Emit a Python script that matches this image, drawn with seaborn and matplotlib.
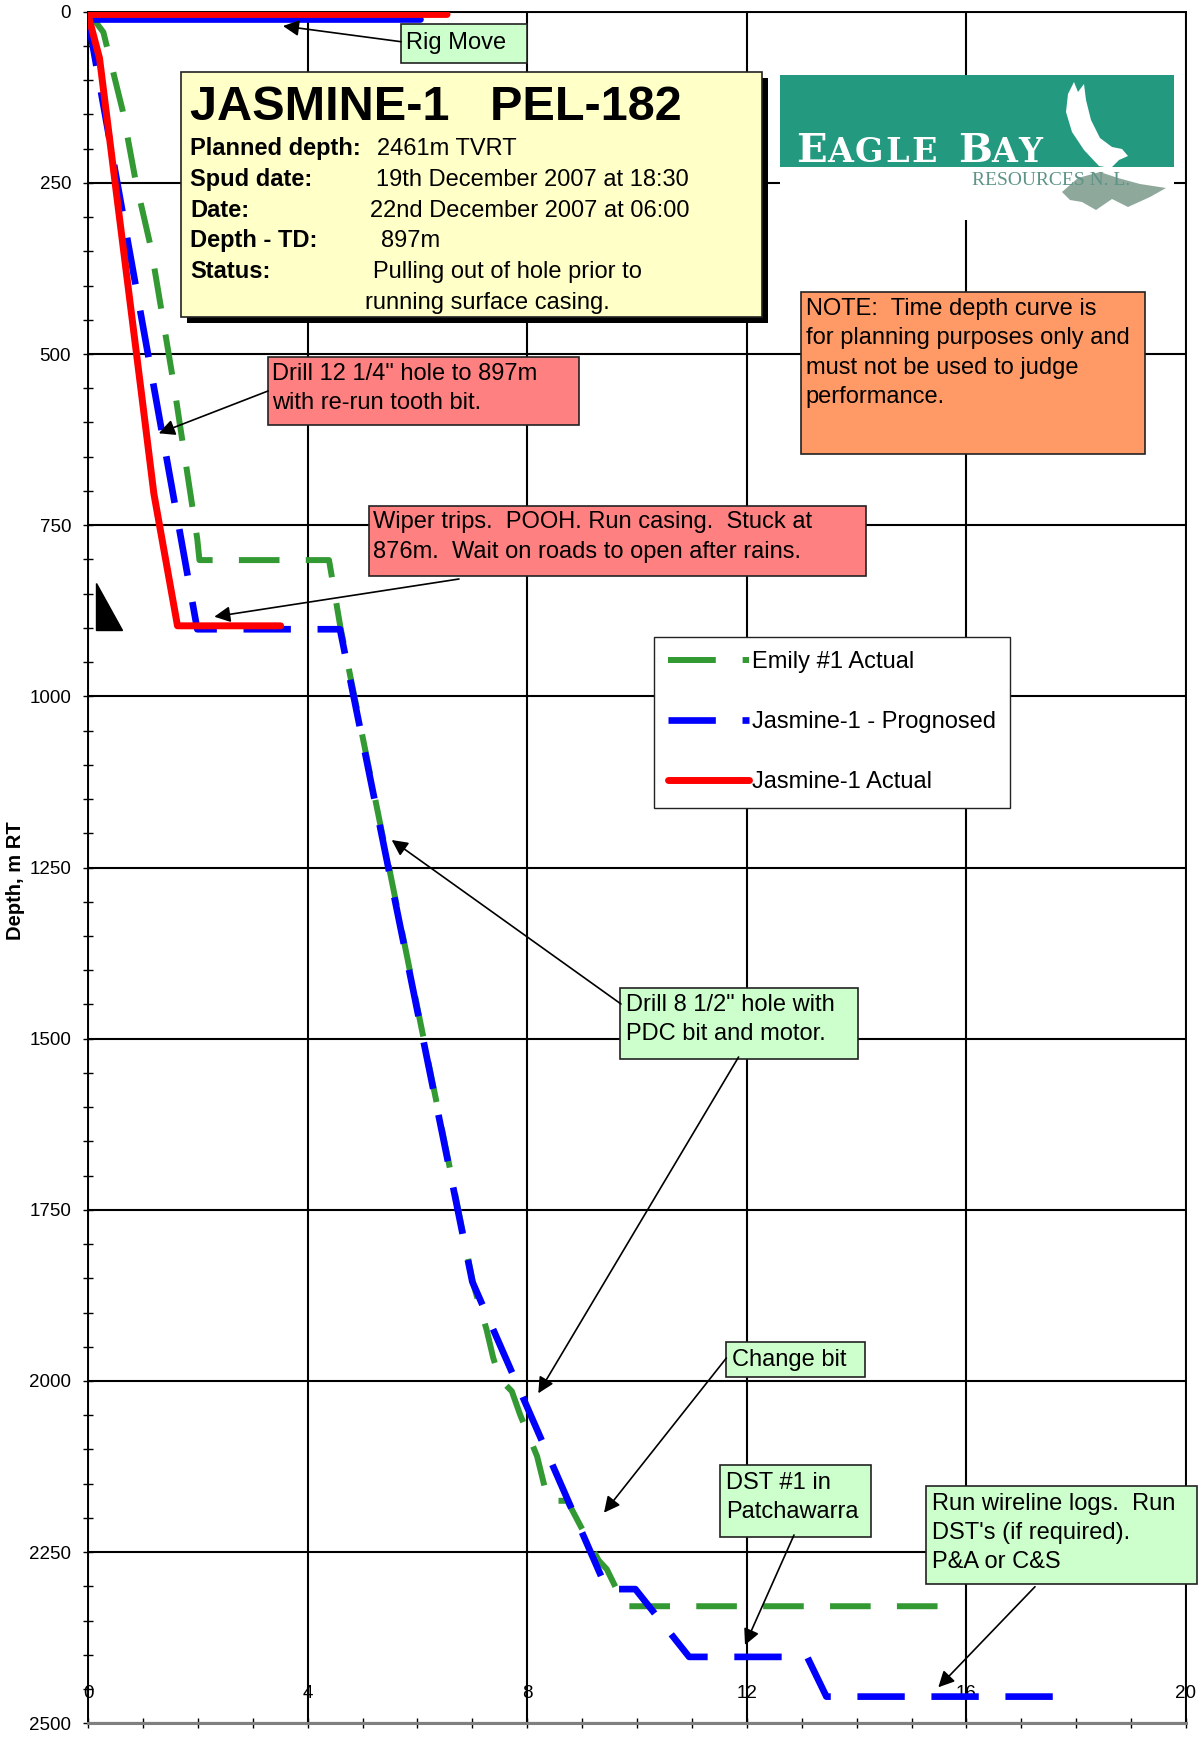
import numpy as np
import pandas as pd
import matplotlib
matplotlib.use("Agg")
import matplotlib.pyplot as plt
import seaborn as sns
from matplotlib.patches import Rectangle, Polygon
from matplotlib.lines import Line2D
from matplotlib.ticker import MultipleLocator

# ---------------- data (days vs depth, m RT) ----------------
series_names = ["Emily #1 Actual", "Jasmine-1 - Prognosed", "Jasmine-1 Actual"]

emily_days = [0.0, 0.28, 0.63, 0.87, 1.15, 1.57, 1.99, 2.03, 4.39, 4.6, 7.02, 7.26, 7.38,
              7.5, 7.72, 7.87, 8.18, 8.38, 8.73, 9.3, 9.45, 9.78, 15.84]
emily_depth = [0, 30, 144, 248, 346, 548, 770, 801, 801, 900, 1859, 1925, 1966,
               1997, 2015, 2049, 2110, 2175, 2175, 2262, 2275, 2329, 2329]

# first two points = rig move
prog_days = [6.05, 0.0, 1.99, 4.59, 7.0, 9.45, 9.97, 10.95, 13.1, 13.45, 17.84]
prog_depth = [11, 11, 902, 902, 1855, 2304, 2304, 2403, 2403, 2461, 2461]

actual_days = [6.54, 0.0, 0.21, 0.99, 1.2, 1.63, 3.51]
actual_depth = [4, 4, 68, 568, 704, 897, 897]

x_major = 4
x_minor = 1
y_major = 250
y_minor = 50
x_range = (0, 20)
y_range = (2500, 0)

# ---------------- styling ----------------
sns.set_theme(style="white")
plt.rcParams["font.family"] = ["Liberation Sans", "DejaVu Sans"]
plt.rcParams["text.color"] = "black"
plt.rcParams["xtick.color"] = "black"
plt.rcParams["ytick.color"] = "black"
plt.rcParams["axes.edgecolor"] = "black"

W, H = 1203, 1738
fig = plt.figure(figsize=(W / 100, H / 100), dpi=100)
fig.patch.set_facecolor("white")

L, R, T, B = 88, 1186, 11.7, 1723.3
ax = fig.add_axes([L / W, 1 - B / H, (R - L) / W, (B - T) / H])

GREEN, BLUE, RED = "#339933", "#0000FF", "#FF0000"

df_e = pd.DataFrame({"days": emily_days, "depth": emily_depth})
df_p = pd.DataFrame({"days": prog_days, "depth": prog_depth})
df_a = pd.DataFrame({"days": actual_days, "depth": actual_depth})

sns.lineplot(data=df_e, x="days", y="depth", sort=False, estimator=None, ax=ax,
             color=GREEN, lw=4.3, legend=False)
l_e = ax.lines[-1]
l_e.set_dashes([6.8, 4.4])
l_e.set_dash_capstyle("butt")

# rig-move part of prognosed (solid) and the drilling curve (dashed)
sns.lineplot(data=df_p.iloc[:2], x="days", y="depth", sort=False, estimator=None, ax=ax,
             color=BLUE, lw=4.8, legend=False)
l_p0 = ax.lines[-1]
sns.lineplot(data=df_p.iloc[1:], x="days", y="depth", sort=False, estimator=None, ax=ax,
             color=BLUE, lw=4.8, legend=False)
l_p = ax.lines[-1]
l_p.set_dashes([7.1, 4.0])
l_p.set_dash_capstyle("butt")

sns.lineplot(data=df_a, x="days", y="depth", sort=False, estimator=None, ax=ax,
             color=RED, lw=5.0, legend=False)
l_a = ax.lines[-1]
l_a.set_solid_capstyle("round")
l_a.set_solid_joinstyle("round")

for ln, z in zip([l_e, l_p0, l_p, l_a], [3, 4, 4, 5]):
    ln.set_zorder(z)

ax.set_xlim(*x_range)
ax.set_ylim(*y_range)
ax.xaxis.set_major_locator(MultipleLocator(x_major))
ax.xaxis.set_minor_locator(MultipleLocator(x_minor))
ax.yaxis.set_major_locator(MultipleLocator(y_major))
ax.yaxis.set_minor_locator(MultipleLocator(y_minor))
ax.set_axisbelow(True)
ax.grid(True, which="major", color="black", lw=1.5)
ax.grid(False, which="minor")

ax.tick_params(axis="both", which="both", direction="inout", length=7.5, width=1,
               color="black", left=True, bottom=True, top=False, right=False)
ax.tick_params(axis="y", which="major", labelsize=13.5, pad=8.4)
ax.tick_params(axis="x", which="major", labelsize=13.5, pad=-31.5)
ax.set_xlabel("")
ax.set_ylabel("")

for s in ["left", "top", "right"]:
    ax.spines[s].set_color("black")
    ax.spines[s].set_linewidth(1.4)
ax.spines["bottom"].set_color("#808080")
ax.spines["bottom"].set_linewidth(2.2)

fig.text(16 / W, 1 - 881 / H, "Depth, m RT", rotation=90, ha="center", va="center",
         fontsize=14.5, fontweight="bold")

# ---------------- legend ----------------
h_e = Line2D([], [], color=GREEN, lw=4.3, dashes=[8.0, 4.5], dash_capstyle="butt")
h_p = Line2D([], [], color=BLUE, lw=4.8, dashes=[7.1, 4.0], dash_capstyle="butt")
h_a = Line2D([], [], color=RED, lw=5.0, solid_capstyle="round")
leg = ax.legend([h_e, h_p, h_a], series_names, loc="upper left",
                bbox_to_anchor=(654.3 / W, 1 - 636.7 / H), bbox_transform=fig.transFigure,
                borderaxespad=0, fontsize=17, handlelength=3.39, handletextpad=0.13,
                borderpad=0.6, labelspacing=1.62, frameon=True, fancybox=False,
                framealpha=1, edgecolor="#222222")
leg.get_frame().set_linewidth(1.0)

# ---------------- overlay annotations (pixel coords) ----------------
ov = fig.add_axes([0, 0, 1, 1], zorder=10)
ov.set_xlim(0, W)
ov.set_ylim(H, 0)
ov.axis("off")


def box(x0, y0, x1, y1, fc, shadow=False):
    if shadow:
        ov.add_patch(Rectangle((x0 + 6, y0 + 6), x1 - x0, y1 - y0, fc="black", ec="none"))
    ov.add_patch(Rectangle((x0, y0), x1 - x0, y1 - y0, fc=fc, ec="#222222", lw=1.2))


def txt(x, y, s, size=17, weight="normal", **kw):
    ov.text(x, y, s, fontsize=size, fontweight=weight, va="baseline", ha="left", **kw)


def arrow(tail, head):
    ov.annotate("", xy=head, xytext=tail,
                arrowprops=dict(arrowstyle="-|>", color="black", lw=1.2,
                                shrinkA=0, shrinkB=0, mutation_scale=24))


# title box
box(180.7, 71.7, 762.4, 316.7, "#FFFFC8", shadow=True)
txt(190, 120, "JASMINE-1   PEL-182", size=35, weight="bold")
labels = ["Planned depth:", "Spud date:", "Date:", "Depth - TD:", "Status:"]
label_y = [155, 186, 216.7, 247.3, 278.3]
for s, y in zip(labels, label_y):
    txt(190, y, s, weight="bold")
values = [("2461m TVRT", 376.7, 155), ("19th December 2007 at 18:30", 375.5, 186),
          ("22nd December 2007 at 06:00", 369.8, 216.7), ("897m", 380.5, 247.3),
          ("Pulling out of hole prior to", 372.8, 278.3),
          ("running surface casing.", 365.2, 309.3)]
for s, x, y in values:
    txt(x, y, s)

# rig move
box(401, 24, 527, 62.7, "#CCFFCC")
txt(406, 49, "Rig Move")
arrow((401, 41.7), (283, 26))

# drill 12 1/4
box(268, 357.3, 578.6, 425, "#FF8080")
txt(272.5, 380, "Drill 12 1/4\" hole to 897m")
txt(272.5, 409, "with re-run tooth bit.")
arrow((268, 391), (158.8, 433.3))

# wiper trips
box(369.3, 506, 866, 575.7, "#FF8080")
txt(373, 528.3, "Wiper trips.  POOH. Run casing.  Stuck at")
txt(373, 558.3, "876m.  Wait on roads to open after rains.")
arrow((459, 579), (214.3, 616.7))

# note
box(800.8, 292.3, 1145.4, 454, "#FF9966")
for s, y in zip(["NOTE:  Time depth curve is", "for planning purposes only and",
                 "must not be used to judge", "performance."], [315, 344.3, 374, 403.3]):
    txt(805.8, y, s)

# drill 8 1/2
box(620, 987.7, 858.3, 1059, "#CCFFCC")
txt(625.7, 1011, "Drill 8 1/2\" hole with")
txt(625.7, 1040, "PDC bit and motor.")
arrow((621, 1004), (391.7, 840))
arrow((738.6, 1057), (538.3, 1393.3))

# change bit
box(726.4, 1342, 865, 1377.4, "#CCFFCC")
txt(732, 1366, "Change bit")
arrow((726.4, 1358), (604, 1512.7))

# DST
box(720, 1465, 870.7, 1536.7, "#CCFFCC")
txt(726, 1489.3, "DST #1 in")
txt(726, 1518.3, "Patchawarra")
arrow((794, 1535), (745, 1645))

# run wireline
box(926, 1486, 1196.7, 1584, "#CCFFCC")
txt(931.7, 1510, "Run wireline logs.  Run")
txt(931.7, 1539.3, "DST's (if required).")
txt(931.7, 1568.3, "P&A or C&S")
arrow((1035, 1586.7), (938.3, 1687.3))

# black triangle marker
ov.add_patch(Polygon([(95.7, 582.7), (95.7, 630), (121.7, 630)], closed=True,
                     fc="black", ec="black"))

# ---------------- logo ----------------
lg = fig.add_axes([780 / W, 1 - 220 / H, (1174 - 780) / W, (220 - 75) / H], zorder=9)
lg.set_xlim(780, 1174)
lg.set_ylim(220, 75)
lg.axis("off")
lg.add_patch(Rectangle((780, 75), 394, 145, fc="white", ec="none"))
lg.add_patch(Rectangle((780, 75), 394, 92, fc="#239A80", ec="none"))
lg.add_patch(Polygon([(1062, 192), (1078, 178), (1100, 172), (1118, 178), (1140, 184),
                      (1166, 188), (1150, 197), (1128, 207), (1112, 199), (1096, 210),
                      (1082, 202), (1070, 200)], closed=True, fc="#8FA89C", ec="none"))
lg.add_patch(Polygon([(1066, 112), (1068, 94), (1074, 82), (1078, 92), (1084, 84),
                      (1086, 100), (1091, 120), (1100, 138), (1112, 147), (1122, 149),
                      (1128, 156), (1119, 160), (1111, 168), (1099, 166), (1084, 150),
                      (1072, 132)], closed=True, fc="white", ec="none"))
sf = ["DejaVu Serif"]
logo_letters = [("E", 796, 29), ("A", 827, 24), ("G", 855, 24), ("L", 885, 24), ("E", 911, 24),
                ("B", 958, 29), ("A", 991, 24), ("Y", 1018, 24)]
for ch, x, sz in logo_letters:
    lg.text(x, 162, ch, fontsize=sz, fontweight="bold", color="white", family=sf,
            va="baseline")
lg.text(972, 185, "RESOURCES N. L.", fontsize=14, color="#5E9488",
        family=["Liberation Serif", "DejaVu Serif"], va="baseline")

fig.savefig("out.png", dpi=100)
